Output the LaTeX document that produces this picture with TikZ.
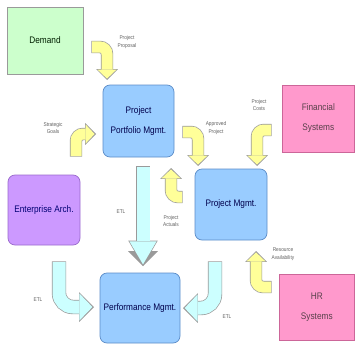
\documentclass[tikz,border=0pt]{standalone}
\usepackage{fontspec}
\setmainfont{Liberation Sans}[FakeStretch=0.87]
\usetikzlibrary{arrows.meta}

\definecolor{demandgreen}{HTML}{CCFFCC}
\definecolor{mgmtblue}{HTML}{99CCFF}
\definecolor{mgmtedge}{HTML}{5B8CC8}
\definecolor{syspink}{HTML}{FF99CC}
\definecolor{sysedge}{HTML}{CC6699}
\definecolor{archpurple}{HTML}{CC99FF}
\definecolor{archedge}{HTML}{9A6ACC}
\definecolor{flowyellow}{HTML}{FFFF99}
\definecolor{etlcyan}{HTML}{CCFFFF}
\definecolor{flowedge}{HTML}{9A9A9A}
\definecolor{notegray}{HTML}{606060}

\begin{document}
\begin{tikzpicture}[x=1pt,y=-1pt,
    boxtext/.style={align=center,inner sep=0pt,line width=.7pt,
      font=\fontsize{9.5}{20}\selectfont},
    plainbox/.style={boxtext,fill=demandgreen,draw=flowedge,text=black!70!green!40!black},
    sysbox/.style={boxtext,fill=syspink,draw=sysedge,text=black!75!magenta},
    mgmtbox/.style={boxtext,rounded corners=7pt,fill=mgmtblue,draw=mgmtedge,text=blue!30!black},
    archbox/.style={boxtext,rounded corners=7pt,fill=archpurple,draw=archedge,text=blue!45!black},
    note/.style={align=center,inner sep=0pt,text=notegray,font=\fontsize{5.5}{7.5}\selectfont},
    yflow/.style={draw=flowyellow,line width=11pt,rounded corners=7pt,shorten >=1.4pt,
      -{Triangle[width=19pt,length=9pt,line width=0pt]},
      preaction={draw=flowedge,line width=12.4pt,shorten >=0pt,shorten <=-.7pt,
        -{Triangle[width=21.6pt,length=10.8pt,line width=0pt]}}},
    etlflow/.style={draw=etlcyan,line width=13pt,rounded corners=14pt,shorten >=1.6pt,
      -{Triangle[width=27pt,length=13pt,line width=0pt]},
      preaction={draw=flowedge,line width=14.4pt,shorten >=0pt,shorten <=-.7pt,
        -{Triangle[width=29.6pt,length=14.8pt,line width=0pt]}}},
    etlstraight/.style={etlflow,-{Triangle[width=27pt,length=23pt,line width=0pt]},
      preaction={draw=flowedge,line width=14.4pt,shorten >=0pt,shorten <=-.7pt,
        -{Triangle[width=29.6pt,length=25.5pt,line width=0pt]}}}]
  \useasboundingbox (0,0) rectangle (355,345);

  \node[plainbox,minimum width=76pt,minimum height=67pt] (demand) at (45,40.5) {Demand};
  \node[mgmtbox,minimum width=71pt,minimum height=72pt] (ppm) at (138.5,121) {Project\\Portfolio Mgmt.};
  \node[sysbox,minimum width=72.6pt,minimum height=67pt] (fin) at (318.3,118.5) {Financial\\Systems};
  \node[archbox,minimum width=72pt,minimum height=70pt] (ea) at (44,210) {Enterprise Arch.};
  \node[mgmtbox,minimum width=72pt,minimum height=71pt] (pm) at (231,204.5) {Project Mgmt.};
  \node[mgmtbox,minimum width=80pt,minimum height=70pt] (perf) at (140,308) {Performance Mgmt.};
  \node[sysbox,minimum width=75.6pt,minimum height=66pt] (hr) at (316.8,307) {HR\\Systems};

  \coordinate (propS) at (92,47);   \coordinate (propE) at (107,80);
  \coordinate (stratS) at (76,156); \coordinate (stratE) at (96,134);
  \coordinate (apprS) at (183,132); \coordinate (apprE) at (198,166);
  \coordinate (costS) at (271,130); \coordinate (costE) at (257,166);
  \coordinate (actS) at (182,197);  \coordinate (actE) at (171,168);
  \coordinate (resS) at (271,287);  \coordinate (resE) at (256,251);
  \coordinate (etlaS) at (59,262);  \coordinate (etlaE) at (94,307);
  \coordinate (etlbS) at (215,262); \coordinate (etlbE) at (183,308);
  \coordinate (etlcS) at (143,167); \coordinate (etlcE) at (143,266);

  \draw[yflow] (propS) -| (propE);
  \draw[yflow] (stratS) |- (stratE);
  \draw[yflow] (apprS) -| (apprE);
  \draw[yflow] (costS) -| (costE);
  \draw[yflow] (actS) -| (actE);
  \draw[yflow] (resS) -| (resE);
  \draw[etlflow] (etlaS) |- (etlaE);
  \draw[etlflow] (etlbS) |- (etlbE);
  \draw[etlstraight] (etlcS) -- (etlcE);

  \node[note] (lprop) at (127,42) {Project\\Proposal};
  \node[note] (lstrat) at (53,128) {Strategic\\Goals};
  \node[note] (lappr) at (216,128) {Approved\\Project};
  \node[note] (lcost) at (259,105) {Project\\Costs};
  \node[note] (lact) at (171,221) {Project\\Actuals};
  \node[note] (lres) at (283,254) {Resource\\Availability};
  \node[note] (letlc) at (121,212) {ETL};
  \node[note] (letla) at (38,300) {ETL};
  \node[note] (letlb) at (227,317) {ETL};
\end{tikzpicture}
\end{document}
